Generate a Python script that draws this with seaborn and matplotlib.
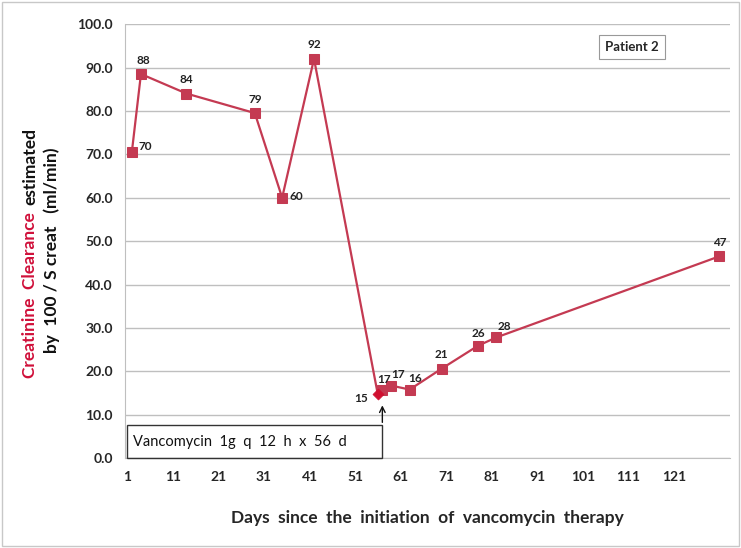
import matplotlib
matplotlib.use("Agg")
import matplotlib.pyplot as plt
import seaborn as sns
import pandas as pd
from matplotlib.patches import Rectangle

# 数据
days = [2, 4, 14, 29, 35, 42, 56, 57, 59, 63, 70, 78, 82, 131]
clearance = [70.5, 88.5, 84.0, 79.5, 60.0, 92.0, 14.7, 15.8, 16.7, 15.8, 20.6, 25.9, 27.8, 46.5]
labels = ["70", "88", "84", "79", "60", "92", "15", "17", "17", "16", "21", "26", "28", "47"]
# 标签偏移 (points)
label_offsets = [(10, 4), (2, 10), (0, 10), (0, 10), (10, 1), (0, 10), (-12, -3),
                 (1, 7), (5, 8), (4, 8), (0, 10), (0, 9), (6, 8), (0, 10)]
x_ticks = list(range(1, 122, 10))
y_ticks = [0, 10, 20, 30, 40, 50, 60, 70, 80, 90, 100]
start_day = 56
therapy_end = 57

sns.set_style("white")
plt.rcParams["font.family"] = ["Lato", "DejaVu Sans"]

df = pd.DataFrame({"day": days, "crcl": clearance})
line_color = "#c43a52"
square_idx = [i for i, d in enumerate(days) if d != start_day]

fig = plt.figure(figsize=(7.41, 5.48), dpi=100)
ax = fig.add_axes([0.169, 0.164, 0.816, 0.792])

sns.lineplot(data=df, x="day", y="crcl", ax=ax, color=line_color, linewidth=1.6,
             marker="s", markersize=6.5, markeredgecolor=line_color, markevery=square_idx,
             zorder=3)
# 起始点用菱形
sns.scatterplot(data=df[df["day"] == start_day], x="day", y="crcl", ax=ax,
                marker="D", s=32, color="#d01030", edgecolor="#d01030", zorder=4)

for d, v, t, off in zip(days, clearance, labels, label_offsets):
    ax.annotate(t, xy=(d, v), xytext=off, textcoords="offset points",
                ha="center", va="center", fontsize=8.5, fontweight="bold", color="#222222")

ax.set_xlim(0.55, 133.3)
ax.set_ylim(0, 100)
ax.set_xticks(x_ticks)
ax.set_yticks(y_ticks)
ax.set_yticklabels([f"{y:.1f}" for y in y_ticks], fontsize=10, fontweight="bold")
ax.set_xticklabels([str(x) for x in x_ticks], fontsize=10, fontweight="bold")
ax.yaxis.grid(True, color="#bfbfbf", linewidth=1)
ax.tick_params(axis="both", length=3, color="#bfbfbf", direction="out", pad=6)
for s in ["top", "right"]:
    ax.spines[s].set_visible(False)
for s in ["left", "bottom"]:
    ax.spines[s].set_color("#bfbfbf")
ax.set_xlabel("Days  since  the  initiation  of  vancomycin  therapy", fontsize=12.5,
              fontweight="bold", labelpad=20)
ax.set_ylabel("")

# 治疗方框 + 箭头
ax.add_patch(Rectangle((1, 0), therapy_end - 1, 7.6, fill=False, edgecolor="#333333",
                       linewidth=1, zorder=5, clip_on=False))
ax.text(2.2, 3.8, "Vancomycin  1g  q  12  h  x  56  d", fontsize=10.5, va="center",
        ha="left", color="#111111")
ax.annotate("", xy=(therapy_end, 12.8), xytext=(therapy_end, 7.6),
            arrowprops=dict(arrowstyle="->", color="#111111", lw=1))

# Patient 2
ax.text(0.838, 0.948, "Patient 2", transform=ax.transAxes, fontsize=9.5, fontweight="bold",
        ha="center", va="center",
        bbox=dict(boxstyle="square,pad=0.45", facecolor="white", edgecolor="#999999", linewidth=0.8))

# y 轴标签（两行，部分红色）
fig.canvas.draw()
renderer = fig.canvas.get_renderer()
t1 = fig.text(30 / 741, 1 - 378 / 548, "Creatinine  Clearance", rotation=90,
              fontsize=12.5, fontweight="bold", color="#d0103a", ha="center", va="bottom")
bb = t1.get_window_extent(renderer)
fig.text(30 / 741, (bb.y1 + 7) / fig.bbox.height, "estimated", rotation=90,
         fontsize=12.5, fontweight="bold", color="#111111", ha="center", va="bottom")
fig.text(52 / 741, 1 - 250 / 548, "by  100 / S creat   (ml/min)", rotation=90,
         fontsize=12.5, fontweight="bold", color="#111111", ha="center", va="center")

# 外框
fig.patches.append(Rectangle((0.003, 0.003), 0.994, 0.994, transform=fig.transFigure,
                             fill=False, edgecolor="#c8c8c8", linewidth=1))

fig.savefig("out.png", dpi=100)
